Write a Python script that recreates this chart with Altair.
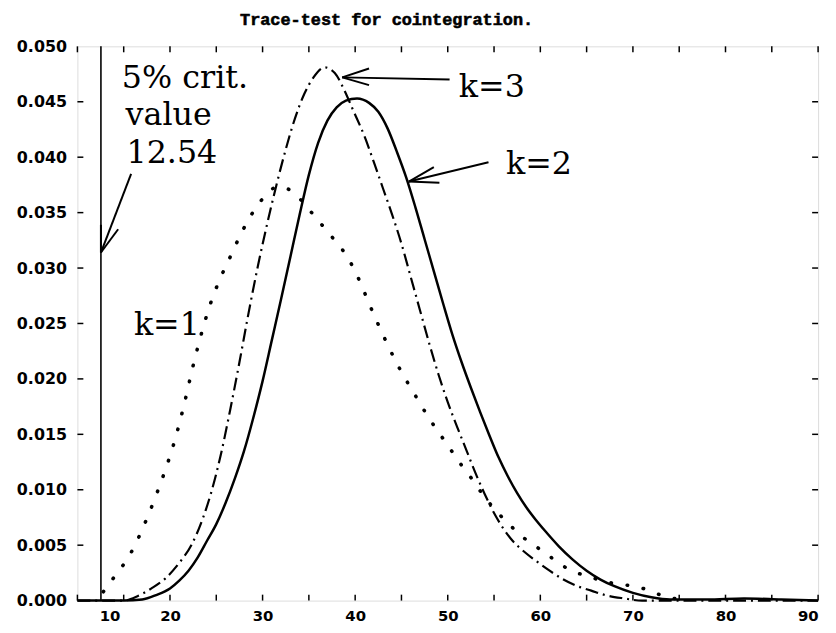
import altair as alt
import pandas as pd

# ---- data ----
k1_x = [12.8, 13.5, 14.5, 15.5, 16.5, 17.5, 18.5, 19.5, 20.5, 21.5, 22.5, 23.5, 24.5, 25.5, 26.5, 27.5,
        28.5, 29.5, 30.5, 31.5, 32.5, 33.5, 34.5, 35.5, 36.5, 37.5, 38.5, 39.5, 40.5, 41.5, 42.5, 43.5,
        44.5, 45.5, 46.5, 47.5, 48.5, 49.5, 50.5, 51.5, 52.5, 53.5, 55.0, 56.5, 58.0, 59.5, 61.0, 62.5,
        64.0, 65.5, 67.0, 68.5, 70.0, 71.5, 73.0, 75.0]
k1_y = [0.0008, 0.0016, 0.0027, 0.0039, 0.0055, 0.0074, 0.0095, 0.0118, 0.0144, 0.0176, 0.0212, 0.0244,
        0.0271, 0.0292, 0.0310, 0.0328, 0.0344, 0.0357, 0.0367, 0.0373, 0.0372, 0.0367, 0.0358, 0.0348,
        0.0338, 0.0328, 0.0318, 0.0305, 0.0288, 0.0268, 0.0249, 0.0231, 0.0214, 0.0199, 0.0185, 0.0171,
        0.0158, 0.0146, 0.0134, 0.0122, 0.0111, 0.0099, 0.0083, 0.0070, 0.0058, 0.0049, 0.0040, 0.0031,
        0.0025, 0.0021, 0.0017, 0.0015, 0.0013, 0.0010, 0.0005, 0.0001]

k2_x = [10.0, 15.0, 17.0, 18.5, 20.0, 21.0, 22.0, 23.0, 24.0, 25.0, 26.0, 27.0, 28.0, 29.0, 30.0, 31.0,
        32.0, 33.0, 34.0, 35.0, 36.0, 37.0, 38.0, 39.0, 40.2, 41.5, 42.5, 43.5, 44.5, 45.5, 46.5, 47.5,
        48.5, 49.5, 50.5, 51.5, 52.5, 53.5, 54.5, 55.5, 56.5, 57.5, 58.5, 59.5, 60.5, 62.0, 63.5, 65.0,
        66.5, 68.0, 70.0, 72.0, 74.0, 78.0, 82.0, 86.0, 90.0]
k2_y = [0.0, 0.0, 0.0001, 0.0005, 0.0011, 0.0018, 0.0027, 0.0039, 0.0054, 0.0069, 0.0088, 0.0110,
        0.0135, 0.0165, 0.0198, 0.0235, 0.0272, 0.0310, 0.0348, 0.0384, 0.0413, 0.0433, 0.0445, 0.0451,
        0.0453, 0.0449, 0.0441, 0.0426, 0.0405, 0.0382, 0.0355, 0.0326, 0.0297, 0.0268, 0.0240, 0.0215,
        0.0192, 0.0170, 0.0149, 0.0129, 0.0112, 0.0097, 0.0084, 0.0073, 0.0063, 0.0049, 0.0037, 0.0027,
        0.0019, 0.0013, 0.0007, 0.0003, 0.0001, 0.0001, 0.0002, 0.0001, 0.0]

k3_x = [10.0, 15.0, 16.5, 18.0, 19.5, 21.0, 22.3, 23.5, 24.5, 25.5, 26.5, 27.5, 28.5, 29.5, 30.5, 31.5,
        32.5, 33.5, 34.5, 35.5, 36.7, 37.8, 38.8, 39.8, 41.0, 42.0, 43.0, 44.0, 45.0, 46.0, 47.0, 48.0,
        49.0, 50.0, 51.0, 52.0, 53.0, 54.0, 55.0, 56.0, 57.0, 58.0, 59.5, 61.0, 62.5, 64.0, 65.5, 67.0,
        69.0, 71.0, 90.0]
k3_y = [0.0, 0.0, 0.0004, 0.0011, 0.0020, 0.0034, 0.0050, 0.0073, 0.0099, 0.0132, 0.0172, 0.0215,
        0.0260, 0.0302, 0.0340, 0.0375, 0.0407, 0.0435, 0.0457, 0.0472, 0.0481, 0.0476, 0.0461, 0.0442,
        0.0419, 0.0396, 0.0372, 0.0348, 0.0322, 0.0292, 0.0262, 0.0232, 0.0204, 0.0179, 0.0157, 0.0136,
        0.0115, 0.0096, 0.0079, 0.0065, 0.0054, 0.0046, 0.0036, 0.0027, 0.0019, 0.0013, 0.0009, 0.0005,
        0.0002, 0.0, 0.0]

crit_value = [12.54]

title_text = ["Trace-test for cointegration."]

# annotation text
ann_text = ["5% crit.", "value", "12.54", "k=1", "k=2", "k=3"]
ann_x = [14.8, 15.2, 15.3, 16.1, 56.3, 51.2]
ann_y = [0.0462, 0.0429, 0.0395, 0.0240, 0.0385, 0.0454]

# arrows: segments (shaft + two barbs)
seg_x1 = [15.8, 12.54, 12.54, 50.2, 38.6, 38.6, 54.4, 45.8, 45.8]
seg_y1 = [0.0385, 0.0314, 0.0314, 0.0470, 0.0472, 0.0472, 0.03955, 0.0378, 0.0378]
seg_x2 = [12.54, 12.54, 14.4, 38.6, 41.5, 41.5, 45.8, 48.5, 49.1]
seg_y2 = [0.0314, 0.0339, 0.0335, 0.0472, 0.0480, 0.0465, 0.0378, 0.0391, 0.0377]

x_ticks = [10, 15, 20, 25, 30, 35, 40, 45, 50, 55, 60, 65, 70, 75, 80, 85, 90]
x_labels = [10, 20, 30, 40, 50, 60, 70, 80, 90]
y_ticks = [0.005, 0.010, 0.015, 0.020, 0.025, 0.030, 0.035, 0.040, 0.045]
y_labels = [0.0, 0.005, 0.010, 0.015, 0.020, 0.025, 0.030, 0.035, 0.040, 0.045, 0.050]

W, H = 747, 559

xs = alt.Scale(domain=[10, 90], nice=False, zero=False)
ys = alt.Scale(domain=[0, 0.05], nice=False)

label_font = "DejaVu Sans"

x_axis = alt.Axis(values=x_labels, ticks=False, domain=False, grid=False, title=None,
                  labelFont=label_font, labelFontWeight="bold", labelFontSize=15,
                  labelColor="black", labelPadding=8,
                  labelOffset={"condition": {"test": "datum.value === 10", "value": 22}, "value": 0})
y_axis = alt.Axis(values=y_labels, ticks=False, domain=False, grid=False, title=None, format=".3f",
                  labelFont=label_font, labelFontWeight="bold", labelFontSize=16,
                  labelColor="black", labelPadding=11)

df1 = pd.DataFrame({"x": k1_x, "y": k1_y})
df2 = pd.DataFrame({"x": k2_x, "y": k2_y})
df3 = pd.DataFrame({"x": k3_x, "y": k3_y})

base_x = alt.X("x:Q", scale=xs, axis=x_axis)
base_y = alt.Y("y:Q", scale=ys, axis=y_axis)

line1 = alt.Chart(df1).mark_line(color="black", strokeWidth=3.6, strokeDash=[0.5, 16],
                                 strokeCap="round", interpolate="monotone").encode(x=base_x, y=base_y)
line2 = alt.Chart(df2).mark_line(color="black", strokeWidth=2.5,
                                 interpolate="monotone").encode(x=base_x, y=base_y)
line3 = alt.Chart(df3).mark_line(color="black", strokeWidth=2.2, strokeDash=[13, 5, 2, 5],
                                 interpolate="monotone").encode(x=base_x, y=base_y)

crit = alt.Chart(pd.DataFrame({"x": crit_value})).mark_rule(color="black", strokeWidth=1.6).encode(
    x=alt.X("x:Q", scale=xs), y=alt.value(0), y2=alt.value(H))

segs = alt.Chart(pd.DataFrame({"x": seg_x1, "y": seg_y1, "x2": seg_x2, "y2": seg_y2})).mark_rule(
    color="black", strokeWidth=2).encode(
    x=alt.X("x:Q", scale=xs), y=alt.Y("y:Q", scale=ys), x2="x2:Q", y2="y2:Q")

texts = alt.Chart(pd.DataFrame({"t": ann_text, "x": ann_x, "y": ann_y})).mark_text(
    font="DejaVu Serif", fontSize=32, align="left", baseline="alphabetic", color="black").encode(
    x=alt.X("x:Q", scale=xs), y=alt.Y("y:Q", scale=ys), text="t:N")

title = alt.Chart(pd.DataFrame({"t": title_text})).mark_text(
    font="Liberation Mono", fontSize=17, fontWeight="bold", align="left", baseline="alphabetic",
    color="black", stroke="black", strokeWidth=0.6).encode(text="t:N", x=alt.value(164), y=alt.value(-22))

xt = pd.DataFrame({"x": x_ticks})
yt = pd.DataFrame({"y": y_ticks})
tick_bottom = alt.Chart(xt).mark_rule(color="black", strokeWidth=1.5).encode(
    x=alt.X("x:Q", scale=xs), y=alt.value(H), y2=alt.value(H - 6))
tick_top = alt.Chart(xt).mark_rule(color="black", strokeWidth=1.5).encode(
    x=alt.X("x:Q", scale=xs), y=alt.value(0), y2=alt.value(6))
tick_left = alt.Chart(yt).mark_rule(color="black", strokeWidth=1.5).encode(
    y=alt.Y("y:Q", scale=ys), x=alt.value(0), x2=alt.value(6))
tick_right = alt.Chart(yt).mark_rule(color="black", strokeWidth=1.5).encode(
    y=alt.Y("y:Q", scale=ys), x=alt.value(W), x2=alt.value(W - 6))

chart = alt.layer(line1, line2, line3, crit, segs, texts, title,
                  tick_bottom, tick_top, tick_left, tick_right).properties(
    width=W, height=H,
    autosize=alt.AutoSizeParams(type="none"),
    padding={"left": 70, "top": 36, "right": 10, "bottom": 30},
).configure_view(stroke="black", strokeWidth=3).configure(background="white")

chart.save("out.html", embed_options={"renderer": "svg", "actions": False})
